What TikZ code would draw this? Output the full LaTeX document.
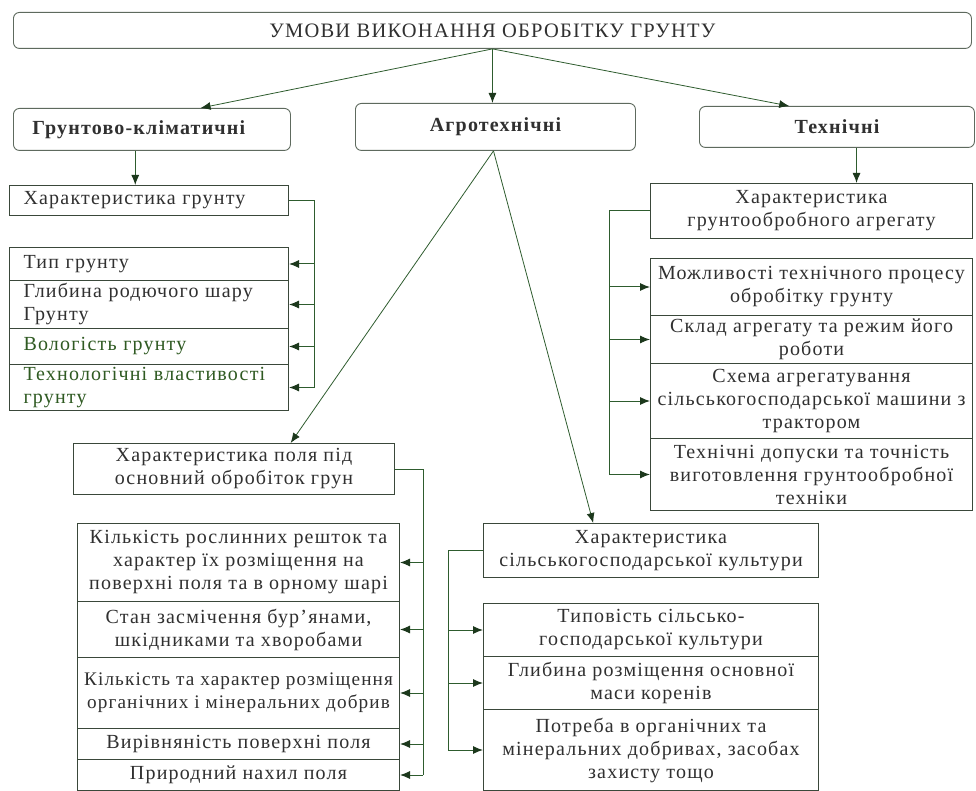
\documentclass[tikz,border=0pt]{standalone}
\usepackage{fontspec}
\setmainfont{Liberation Serif}[LetterSpace=6]
\usetikzlibrary{arrows.meta,calc}
\definecolor{bord}{HTML}{3A483A}
\definecolor{rbord}{HTML}{5E6A5E}
\definecolor{lnk}{HTML}{2E5C2E}
\definecolor{tip}{HTML}{1C381C}
\definecolor{txt}{HTML}{303030}
\definecolor{gtxt}{HTML}{2F5A22}
\newcommand\bdfnt{\fontsize{20}{23}\selectfont}
\newcommand\hdfnt{\fontsize{20}{23}\selectfont\bfseries}
\tikzset{
  rbox/.style={draw=rbord, line width=0.9pt, rounded corners=6pt, fill=white, inner sep=0pt, text=txt, anchor=north west},
  sbox/.style={draw=bord, line width=1pt, fill=white, inner sep=1pt, text=txt, font=\bdfnt, align=center, anchor=north west},
  lbox/.style={sbox, align=left, inner xsep=14pt},
  conn/.style={draw=lnk, line width=1pt},
  arr/.style={conn, -{Latex[length=10pt,width=8pt,color=tip]}},
  thin arr/.style={draw=lnk, line width=0.8pt, -{Latex[length=10pt,width=8pt,color=tip]}},
}
\begin{document}
\begin{tikzpicture}[x=1pt,y=-1pt]
\useasboundingbox (0,0) rectangle (976,791);
% top level
\node[rbox, minimum width=958pt, minimum height=36pt, font=\fontsize{20.5}{23}\selectfont] (top) at (13,12) {УМОВИ ВИКОНАННЯ ОБРОБІТКУ ГРУНТУ};
\node[rbox, minimum width=277pt, minimum height=42pt, font=\hdfnt, text width=239pt, align=left, inner xsep=19pt] (L1) at (13,108) {Грунтово-кліматичні};
\node[rbox, minimum width=280pt, minimum height=47pt, font=\hdfnt] (M1) at (355,103) {Агротехнічні};
\node[rbox, minimum width=275pt, minimum height=41pt, font=\hdfnt] (R1) at (699,106) {Технічні};
\draw[thin arr] (top.south) -- ($(L1.north west)!0.675!(L1.north east)$);
\draw[arr] (top.south) -- (top.south |- M1.north);
\draw[thin arr] (top.south) -- ($(R1.north west)!0.327!(R1.north east)$);
% left column
\node[lbox, minimum width=279pt, minimum height=30pt, text width=251pt] (LC0) at (9,185) {Характеристика грунту};
\node[lbox, minimum width=279pt, minimum height=33pt, text width=251pt] (LC1) at (9,247) {Тип грунту};
\node[lbox, minimum width=279pt, minimum height=48pt, text width=251pt] (LC2) at (9,280) {Глибина родючого шару\\Грунту};
\node[lbox, minimum width=279pt, minimum height=36pt, text width=251pt, text=gtxt] (LC3) at (9,328) {Вологість грунту};
\node[lbox, minimum width=279pt, minimum height=46pt, text width=251pt, text=gtxt] (LC4) at (9,364) {Технологічні властивості\\грунту};
\coordinate (l1s) at ($(L1.south west)!0.44!(L1.south east)$);
\draw[arr] (l1s) -- (l1s |- LC0.north);
\coordinate (bL) at (314,0);
\draw[conn] (LC0.east) -| (bL |- LC4.east);
\foreach \n in {LC1,LC2,LC3,LC4} \draw[arr] (bL |- \n.east) -- (\n.east);
% right column
\node[sbox, minimum width=322pt, minimum height=55pt] (RC0) at (650,183) {Характеристика\\грунтообробного агрегату};
\node[sbox, minimum width=322pt, minimum height=57pt] (RC1) at (650,258) {Можливості технічного процесу\\обробітку грунту};
\node[sbox, minimum width=322pt, minimum height=48pt] (RC2) at (650,315) {Склад агрегату та режим його\\роботи};
\node[sbox, minimum width=322pt, minimum height=75pt] (RC3) at (650,363) {Схема агрегатування\\сільськогосподарської машини з\\трактором};
\node[sbox, minimum width=322pt, minimum height=72pt] (RC4) at (650,438) {Технічні допуски та точність\\виготовлення грунтообробної\\техніки};
\coordinate (r1s) at ($(R1.south west)!0.571!(R1.south east)$);
\draw[arr] (r1s) -- (r1s |- RC0.north);
\coordinate (bR) at (609,0);
\draw[conn] (RC0.west) -| (bR |- RC4.west);
\foreach \n in {RC1,RC2,RC3,RC4} \draw[arr] (bR |- \n.west) -- (\n.west);
% middle left
\node[sbox, minimum width=321pt, minimum height=51pt] (ML0) at (73,443) {Характеристика поля під\\основний обробіток грун};
\node[sbox, minimum width=322pt, minimum height=78pt] (ML1) at (77,523) {Кількість рослинних решток та\\характер їх розміщення на\\поверхні поля та в орному шарі};
\node[sbox, minimum width=322pt, minimum height=56pt] (ML2) at (77,601) {Стан засмічення бур’янами,\\шкідниками та хворобами};
\node[sbox, minimum width=322pt, minimum height=71pt, font=\fontsize{19.2}{23}\selectfont, inner xsep=0.5pt] (ML3) at (77,657) {Кількість та характер розміщення\\органічних і мінеральних добрив};
\node[sbox, minimum width=322pt, minimum height=31pt] (ML4) at (77,728) {Вирівняність поверхні поля};
\node[sbox, minimum width=322pt, minimum height=31pt] (ML5) at (77,759) {Природний нахил поля};
\coordinate (m1s) at ($(M1.south west)!0.493!(M1.south east)$);
\draw[thin arr] (m1s) -- ($(ML0.north west)!0.676!(ML0.north east)$);
\coordinate (bM) at (423,0);
\draw[conn] (ML0.east) -| (bM |- ML5.east);
\foreach \n in {ML1,ML2,ML3,ML4,ML5} \draw[arr] (bM |- \n.east) -- (\n.east);
% middle right
\node[sbox, minimum width=335pt, minimum height=54pt] (MR0) at (483,523) {Характеристика\\сільськогосподарської культури};
\node[sbox, minimum width=335pt, minimum height=53pt] (MR1) at (483,603) {Типовість сільсько-\\господарської культури};
\node[sbox, minimum width=335pt, minimum height=53pt] (MR2) at (483,656) {Глибина розміщення основної\\маси коренів};
\node[sbox, minimum width=335pt, minimum height=81pt] (MR3) at (483,709) {Потреба в органічних та\\мінеральних добривах, засобах\\захисту тощо};
\draw[thin arr] (m1s) -- ($(MR0.north west)!0.328!(MR0.north east)$);
\coordinate (bN) at (448,0);
\draw[conn] (MR0.west) -| (bN |- MR3.west);
\foreach \n in {MR1,MR2,MR3} \draw[arr] (bN |- \n.west) -- (\n.west);
\end{tikzpicture}
\end{document}
